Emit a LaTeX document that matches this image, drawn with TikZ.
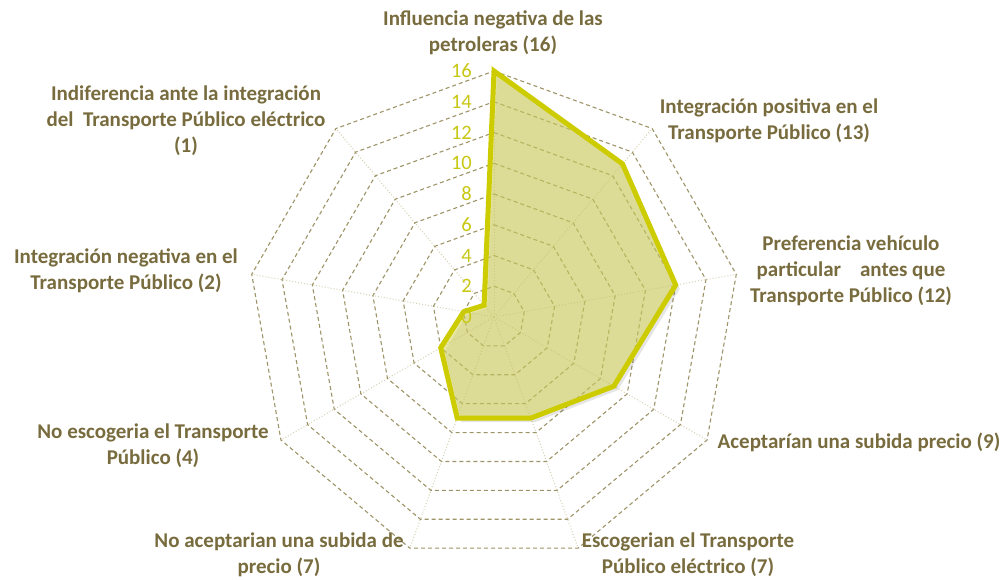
\documentclass[tikz,border=0pt]{standalone}
\usepackage{fontspec}
\setmainfont{Carlito}
\usetikzlibrary{calc}
\definecolor{lblc}{RGB}{120,108,62}
\definecolor{gridc}{RGB}{158,148,104}
\definecolor{spokec}{RGB}{215,208,180}
\definecolor{datac}{RGB}{204,204,0}
\definecolor{fillc}{RGB}{214,214,96}
\definecolor{tickc}{RGB}{200,200,20}
\tikzset{
  gridline/.style={draw=gridc, dash pattern=on 4pt off 3pt, line width=1.1pt},
  spoke/.style={draw=spokec, dotted, line width=1pt},
  axlabel/.style={text=lblc, font=\bfseries\fontsize{21}{26}\selectfont, align=center, inner sep=0pt},
  ticklabel/.style={text=tickc, font=\fontsize{20.5}{22}\selectfont, anchor=east, inner sep=0pt},
  datafill/.style={fill=fillc, fill opacity=0.58},
  dataline/.style={draw=datac, line width=5pt, line join=miter},
}
\begin{document}
\begin{tikzpicture}[x=1pt,y=1pt]
\useasboundingbox (0,0) rectangle (1006,-580);
\fill[white] (0,0) rectangle (1006,-580);
\coordinate (O) at (494,-317);
\begin{scope}[shift={(494,-317)}]
  % spokes
  \foreach \k in {0,...,8} {
    \draw[spoke] (0,0) -- ({90-40*\k}:246);
  }
  % grid rings
  \foreach \l in {1,...,8} {
    \draw[gridline] (90:{\l*30.75})
      \foreach \k in {1,...,8} { -- ({90-40*\k}:{\l*30.75}) } -- cycle;
  }
  % shadow
  \fill[black, opacity=0.10] ($(90:246)+(3,-3)$) -- ($(50:199.9)+(3,-3)$) -- ($(10:184.5)+(4,-4)$) -- ($(-30:138.4)+(4,-4)$) -- ($(-70:107.6)+(4,-4)$) -- ($(-110:107.6)+(4,-4)$) -- ($(-150:61.5)+(4,-4)$) -- ($(170:30.75)+(3,-3)$) -- ($(130:15.4)+(3,-3)$) -- cycle;
  % data polygon
  \fill[datafill] (90:246) -- (50:199.9) -- (10:184.5) -- (-30:138.4) -- (-70:107.6) -- (-110:107.6) -- (-150:61.5) -- (170:30.75) -- (130:15.4) -- cycle;
  \draw[dataline] (90:246) -- (50:199.9) -- (10:184.5) -- (-30:138.4) -- (-70:107.6) -- (-110:107.6) -- (-150:61.5) -- (170:30.75) -- (130:15.4) -- cycle;
  % tick labels
  \foreach \v [count=\i from 0] in {0,2,4,6,8,10,12,14,16} {
    \node[ticklabel] (t\v) at (-22,{\i*30.75}) {\v};
  }
\end{scope}
% axis labels
\node[axlabel] (l0) at (493,-33) {Influencia negativa de las\\petroleras (16)};
\node[axlabel] (l1) at (769,-121) {Integración positiva en el\\Transporte Público (13)};
\node[axlabel] (l2) at (851,-271) {Preferencia vehículo\\particular\ \ \ \ antes que\\Transporte Público (12)};
\node[axlabel] (l3) at (859,-442) {Aceptarían una subida precio (9)};
\node[axlabel] (l4) at (688,-555) {Escogerian el Transporte\\Público eléctrico (7)};
\node[axlabel] (l5) at (279,-555) {No aceptarian una subida de\\precio (7)};
\node[axlabel] (l6) at (153,-446) {No escogeria el Transporte\\Público (4)};
\node[axlabel] (l7) at (126,-271) {Integración negativa en el\\Transporte Público (2)};
\node[axlabel] (l8) at (186,-121) {Indiferencia ante la integración\\del\ \ Transporte Público eléctrico\\(1)};
\end{tikzpicture}
\end{document}
